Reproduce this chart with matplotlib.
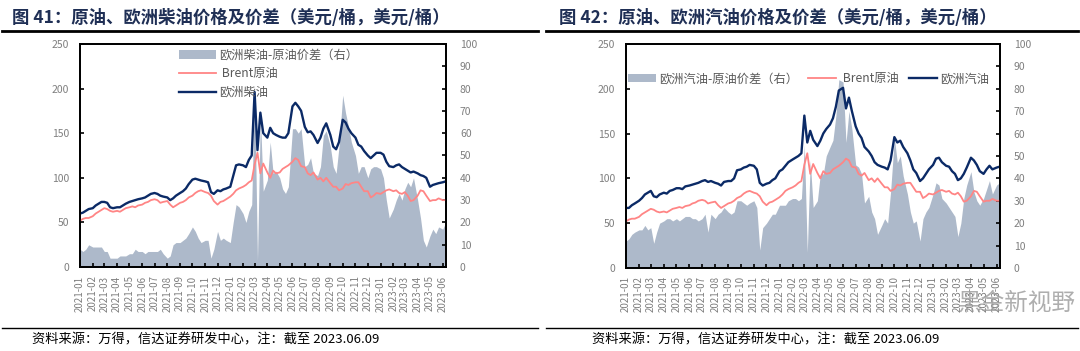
import matplotlib
matplotlib.use('Agg')
import matplotlib.pyplot as plt
import matplotlib.dates as mdates
import matplotlib.patches as patches
from matplotlib.lines import Line2D
import pandas as pd

plt.rcParams['font.family'] = ['Noto Sans CJK SC', 'DejaVu Sans']
plt.rcParams['axes.unicode_minus'] = False

# weekly readings, 4 per month (2021-01 .. 2023-05) + 2 for 2023-06
months = pd.period_range('2021-01', '2023-05', freq='M')
dates = [pd.Timestamp(m.year, m.month, d) for m in months for d in (1, 8, 15, 22)]
dates += [pd.Timestamp(2023, 6, 1), pd.Timestamp(2023, 6, 8)]

brent = [52, 54, 55, 55,  57, 60, 62, 64,  66, 65, 63, 62,  63, 62, 64, 66,
         67, 68, 67, 69,  70, 72, 73, 75,  76, 75, 72, 73,  74, 70, 67, 69,
         72, 73, 75, 78,  80, 83, 85, 86,  84, 83, 80, 74,  70, 73, 74, 76,
         79, 82, 86, 88,  90, 92, 95, 97,  115, 128, 105, 116,  106, 100, 108, 105,
         106, 110, 112, 114,  118, 122, 120, 113,  112, 105, 103, 106,  98, 100, 96, 100,
         94, 90, 90, 86,  88, 93, 92, 94,  95, 95, 90, 85,  85, 78, 80, 83,
         82, 84, 86, 87,  85, 86, 83, 82,  84, 80, 74, 75,  80, 86, 85, 80,
         74, 75, 75, 77,  75, 75]

diesel = [60, 61, 63, 65,  66, 69, 71, 73,  73, 72, 67, 66,  67, 67, 69, 71,
          73, 74, 75, 76,  77, 78, 80, 82,  83, 82, 80, 79,  78, 75, 77, 80,
          83, 85, 88, 93,  98, 99, 98, 97,  96, 95, 84, 82,  86, 85, 87, 88,
          90, 102, 114, 115,  114, 112, 120, 125,  196, 131, 173, 150,  145, 156, 150, 148,
          146, 145, 145, 150,  180, 184, 180, 175,  157, 151, 152, 148,  139, 145, 155, 161,
          148, 135, 132, 140,  165, 162, 155, 150,  145, 137, 135, 130,  125, 122, 125, 128,
          128, 126, 118, 113,  112, 114, 115, 112,  110, 108, 106, 107,  105, 103, 102, 100,
          90, 92, 93, 94,  95, 96]

diesel_spread = [8, 7, 8, 10,  9, 9, 9, 9,  7, 7, 4, 4,  4, 5, 5, 5,
                 6, 6, 8, 7,  7, 6, 7, 7,  7, 7, 8, 6,  4, 5, 10, 11,
                 11, 12, 13, 15,  18, 16, 13, 11,  12, 12, 4, 8,  16, 12, 13, 12,
                 11, 20, 28, 27,  24, 20, 25, 28,  81, 3, 68, 34,  39, 56, 42, 43,
                 40, 35, 33, 36,  62, 62, 60, 62,  45, 46, 49, 42,  41, 45, 59, 61,
                 54, 45, 42, 54,  77, 69, 63, 56,  50, 42, 45, 45,  40, 44, 45, 45,
                 44, 40, 30, 22,  26, 30, 33, 30,  35, 38, 36, 40,  30, 22, 12, 9,
                 14, 17, 15, 18,  17, 20]

gasoline = [67, 67, 70, 72,  75, 78, 82, 84,  86, 80, 79, 82,  84, 83, 86, 87,
            89, 89, 88, 91,  92, 93, 94, 95,  97, 98, 96, 97,  95, 94, 92, 96,
            97, 97, 100, 109,  110, 112, 113, 115,  114, 110, 95, 92,  94, 95, 98, 100,
            108, 110, 114, 118,  121, 123, 125, 128,  170, 140, 153, 143,  136, 142, 150, 155,
            160, 167, 180, 198,  201, 178, 190, 175,  158, 150, 145, 135,  130, 125, 118, 115,
            113, 112, 110, 120,  146, 140, 142, 135,  128, 120, 110, 106,  97, 100, 105, 110,
            115, 122, 123, 118,  114, 113, 108, 105,  98, 100, 105, 112,  123, 120, 115, 108,
            105, 110, 114, 110,  112, 113]

gasoline_spread = [12, 13, 15, 16,  17, 17, 19, 17,  18, 11, 16, 20,  21, 22, 22, 21,
                   22, 21, 22, 23,  23, 22, 22, 21,  22, 24, 16, 24,  22, 24, 25, 27,
                   25, 24, 25, 30,  30, 29, 28, 29,  30, 27, 8, 18,  20, 22, 24, 24,
                   28, 28, 28, 30,  31, 31, 30, 31,  55, 7, 48, 27,  30, 42, 42, 50,
                   54, 57, 68, 84,  83, 56, 70, 62,  46, 45, 42, 29,  32, 25, 22, 15,
                   19, 22, 20, 34,  58, 47, 50, 41,  33, 25, 20, 21,  12, 22, 25, 27,
                   33, 38, 37, 31,  29, 27, 25, 23,  14, 20, 31, 37,  43, 34, 30, 28,
                   31, 35, 39, 33,  37, 38]

month_ticks = pd.date_range('2021-01-01', '2023-06-01', freq='MS')

GRAY = '#ADB9CA'
PINK = '#FF8585'
NAVY = '#0B2A66'
TICK = '#7F7F7F'


def panel(fig, rect, product, spread, spread_label, prod_label, legend_kw):
    ax = fig.add_axes(rect)
    axr = ax.twinx()
    ax.set_zorder(axr.get_zorder() + 1)
    ax.patch.set_visible(False)

    axr.fill_between(dates, spread, 0, color=GRAY, linewidth=0)
    ax.plot(dates, brent, color=PINK, linewidth=1.3)
    ax.plot(dates, product, color=NAVY, linewidth=1.7)

    ax.set_xlim(pd.Timestamp('2021-01-01'), pd.Timestamp('2023-06-09'))
    ax.set_ylim(0, 250)
    axr.set_ylim(0, 100)
    ax.set_yticks(range(0, 251, 50))
    axr.set_yticks(range(0, 101, 10))
    ax.set_xticks(month_ticks)
    ax.xaxis.set_major_formatter(mdates.DateFormatter('%Y-%m'))

    ax.tick_params(axis='x', direction='in', length=3, width=1.2, colors='black',
                   labelcolor=TICK, labelsize=7, labelrotation=90, pad=6)
    ax.tick_params(axis='y', direction='in', length=3, width=1.2, colors='black',
                   labelcolor=TICK, labelsize=7.5, pad=8)
    axr.tick_params(axis='y', direction='in', length=3, width=1.2, colors='black',
                    labelcolor=TICK, labelsize=7.5, pad=10)
    for a in (ax, axr):
        for s in a.spines.values():
            s.set_linewidth(1.3)
            s.set_color('black')

    handles = [patches.Patch(facecolor=GRAY, edgecolor='none'),
               Line2D([], [], color=PINK, linewidth=1.3),
               Line2D([], [], color=NAVY, linewidth=1.7)]
    labels = [spread_label, ' Brent原油', prod_label]
    ax.legend(handles, labels, frameon=False, fontsize=8.8,
              labelcolor='#595959', handletextpad=0.3,
              borderaxespad=0.2, **legend_kw)
    return ax


fig = plt.figure(figsize=(10.8, 3.51), dpi=100)

panel(fig, [0.0741, 0.239, 0.3389, 0.636], diesel, diesel_spread,
      '欧洲柴油-原油价差（右）', '欧洲柴油',
      dict(loc='upper left', bbox_to_anchor=(0.25, 1.01), ncol=1,
           labelspacing=0.45, handlelength=3.0))
panel(fig, [0.5796, 0.2365, 0.3463, 0.6385], gasoline, gasoline_spread,
      '欧洲汽油-原油价差（右）', '欧洲汽油',
      dict(loc='upper left', bbox_to_anchor=(-0.015, 0.905), ncol=3,
           columnspacing=0.8, handlelength=2.3))

title_kw = dict(fontsize=12.5, fontweight='bold', color='#1F2F55', va='center', ha='left')
fig.text(0.011, 0.948, '图 41：原油、欧洲柴油价格及价差（美元/桶，美元/桶）', **title_kw)
fig.text(0.518, 0.948, '图 42：原油、欧洲汽油价格及价差（美元/桶，美元/桶）', **title_kw)

for x0, x1 in ((0.002, 0.498), (0.506, 0.998)):
    fig.add_artist(Line2D([x0, x1], [0.912, 0.912], color='black', linewidth=2.0))
    fig.add_artist(Line2D([x0, x1], [0.066, 0.066], color='black', linewidth=1.0))

foot = '资料来源：万得，信达证券研发中心，注：截至 2023.06.09'
fig.text(0.03, 0.030, foot, fontsize=9.5, color='black', va='center', style='italic')
fig.text(0.548, 0.030, foot, fontsize=9.5, color='black', va='center', style='italic')

fig.text(0.996, 0.135, '黑金新视野', fontsize=17, color='#9A9A9A', ha='right',
         va='center', alpha=0.8)

fig.savefig('out.png', dpi=100)
